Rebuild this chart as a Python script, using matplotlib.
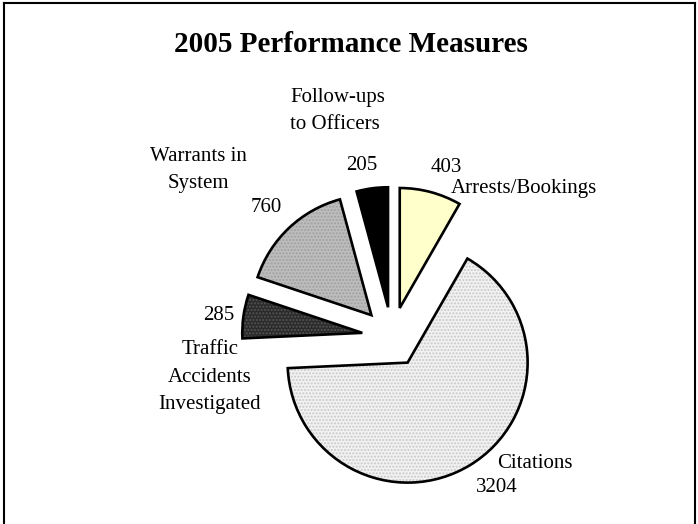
import matplotlib
matplotlib.use("Agg")
import matplotlib.pyplot as plt
from matplotlib.lines import Line2D

categories = ["Arrests/Bookings", "Citations", "Traffic Accidents Investigated",
              "Warrants in System", "Follow-ups to Officers"]
values = [403, 3204, 285, 760, 205]
title = "2005 Performance Measures"

W, H = 698, 524
fig = plt.figure(figsize=(W / 100, H / 100), dpi=100)
plt.rcParams['font.family'] = ['Liberation Serif', 'DejaVu Serif']

# pie geometry (pixels)
cx, cy, R = 392, 337, 120
ax = fig.add_axes([0, 0, 1, 1])
face = ['#FFFFCC', '#F2F2F2', '#2B2B2B', '#BDBDBD', '#000000']
hatchcol = [None, '#C8C8C8', '#555555', '#A0A0A0', None]
explode = [0.25] * len(values)

ax.pie(values, startangle=90, counterclock=False, explode=explode, radius=1,
       colors=face, wedgeprops=dict(edgecolor='none', linewidth=0))
wedges2, _ = ax.pie(values, startangle=90, counterclock=False, explode=explode, radius=1,
                    colors=['none'] * len(values),
                    wedgeprops=dict(linewidth=0))
plt.rcParams['hatch.linewidth'] = 0.6
for w, hc in zip(wedges2, hatchcol):
    if hc:
        w.set_hatch('.....')
        w.set_edgecolor(hc)
        w.set_facecolor('none')
ax.pie(values, startangle=90, counterclock=False, explode=explode, radius=1,
       colors=['none'] * len(values),
       wedgeprops=dict(edgecolor='black', linewidth=1.9, joinstyle='miter'))

ax.set_xlim(-cx / R, (W - cx) / R)
ax.set_ylim(-(H - cy) / R, cy / R)
ax.set_aspect('auto')
ax.axis('off')


def t(x, y, s, **kw):
    fig.text(x / W, 1 - y / H, s, ha=kw.pop('ha', 'center'), va='center',
             fontsize=kw.pop('fontsize', 15), **kw)


t(351, 45, title, fontsize=21, fontweight='bold')
t(290, 111, "Follow-ups\nto Officers", ha='left', linespacing=1.58)
t(362, 165, "205")
t(446, 168, "403")
t(524, 189, "Arrests/Bookings")
t(198, 170, "Warrants in\nSystem", linespacing=1.58)
t(266, 207, "760")
t(219, 315, "285")
t(210, 377, "Traffic\nAccidents\nInvestigated", linespacing=1.58)
t(535, 463, "Citations")
t(497, 487, "3204")

# border
for xs, ys in [([3.5, 3.5], [2.5, 524]), ([3.5, 694.5], [2.5, 2.5]), ([694.5, 694.5], [2.5, 524])]:
    fig.add_artist(Line2D([x / W for x in xs], [1 - y / H for y in ys],
                          color='black', linewidth=1.5, transform=fig.transFigure))

fig.savefig("out.png", dpi=100)
